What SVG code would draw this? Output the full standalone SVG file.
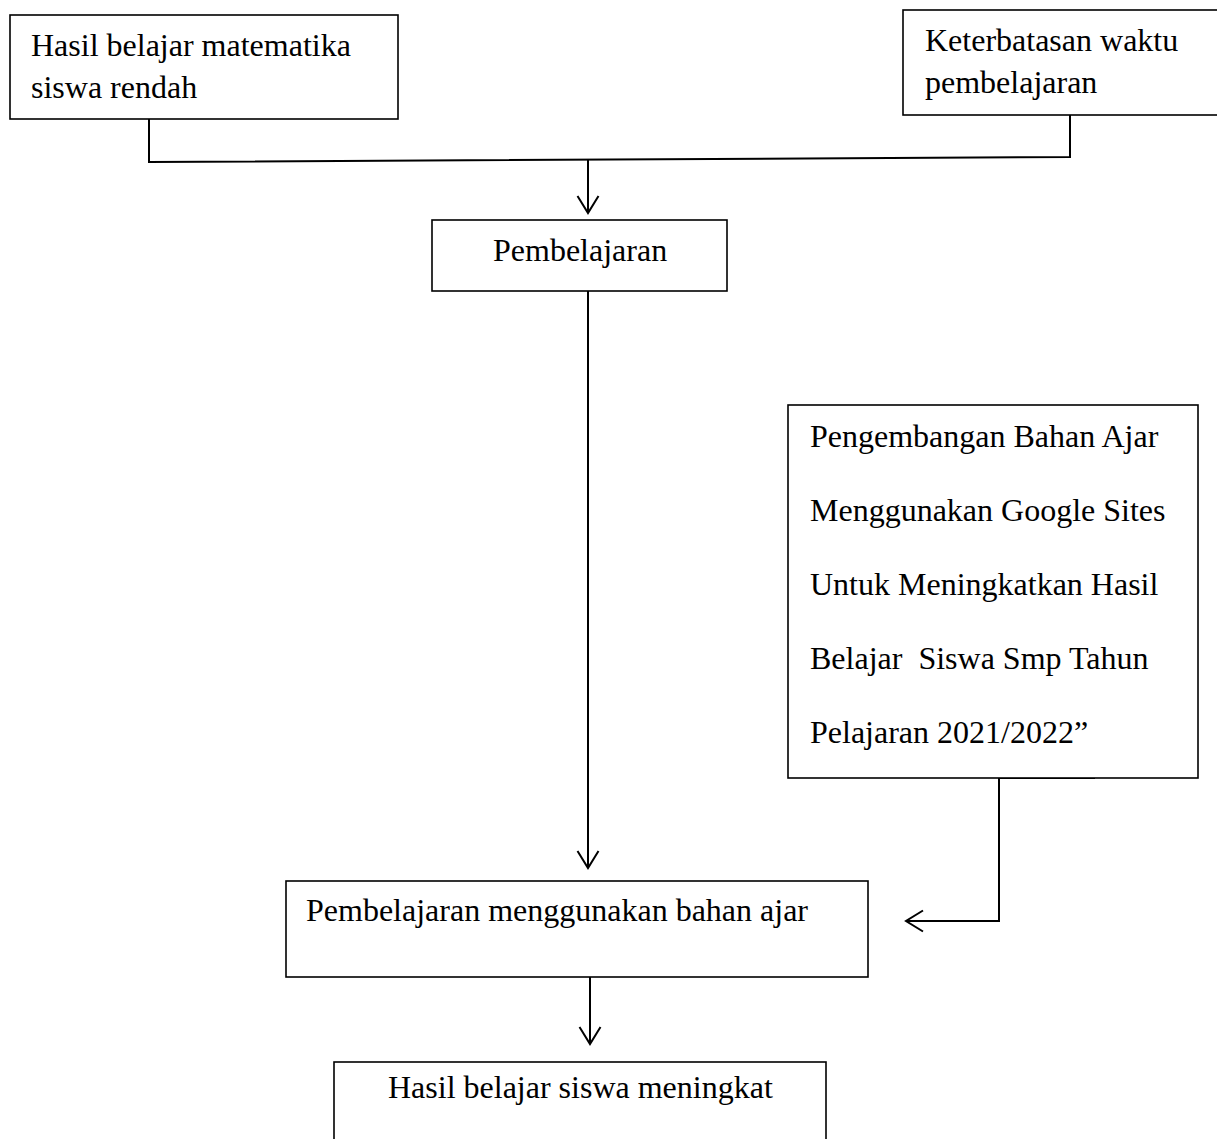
<svg xmlns="http://www.w3.org/2000/svg" width="1217" height="1139" viewBox="0 0 1217 1139">
<style>
.box{fill:#fff;stroke:#000;stroke-width:1.6}
.t{font-family:"Liberation Serif","Times New Roman",serif;font-size:32px;fill:#000}
.c{fill:none;stroke:#000;stroke-width:2}
</style>
<defs>
<marker id="arr" viewBox="-19 -12 21 24" refX="0" refY="0" markerWidth="21" markerHeight="24" markerUnits="userSpaceOnUse" orient="auto">
<path d="M-17,-10.5 L0,0 L-17,10.5" fill="none" stroke="#000" stroke-width="2"/>
</marker>
</defs>
<rect width="1217" height="1139" fill="#fff"/>
<g id="connectors">
<polyline class="c" points="149,119 149,162 1070,157 1070,115"/>
<line class="c" x1="588" y1="160" x2="588" y2="213" marker-end="url(#arr)"/>
<line class="c" x1="588" y1="291" x2="588" y2="868" marker-end="url(#arr)"/>
<polyline class="c" points="1095,778 999,778 999,921 906,921" marker-end="url(#arr)"/>
<line class="c" x1="590" y1="977" x2="590" y2="1044" marker-end="url(#arr)"/>
</g>
<g id="n1">
<rect class="box" x="10" y="15" width="388" height="104"/>
<text class="t" x="31" y="56">Hasil belajar matematika</text>
<text class="t" x="31" y="98">siswa rendah</text>
</g>
<g id="n2">
<rect class="box" x="903" y="10" width="330" height="105"/>
<text class="t" x="925" y="51">Keterbatasan waktu</text>
<text class="t" x="925" y="93">pembelajaran</text>
</g>
<g id="n3">
<rect class="box" x="432" y="220" width="295" height="71"/>
<text class="t" x="493" y="261">Pembelajaran</text>
</g>
<g id="n4">
<rect class="box" x="788" y="405" width="410" height="373"/>
<text class="t" x="810" y="447">Pengembangan Bahan Ajar</text>
<text class="t" x="810" y="521">Menggunakan Google Sites</text>
<text class="t" x="810" y="595">Untuk Meningkatkan Hasil</text>
<text class="t" x="810" y="669" xml:space="preserve">Belajar  Siswa Smp Tahun</text>
<text class="t" x="810" y="743">Pelajaran 2021/2022”</text>
</g>
<g id="n5">
<rect class="box" x="286" y="881" width="582" height="96"/>
<text class="t" x="306" y="921">Pembelajaran menggunakan bahan ajar</text>
</g>
<g id="n6">
<rect class="box" x="334" y="1062" width="492" height="100"/>
<text class="t" x="388" y="1098">Hasil belajar siswa meningkat</text>
</g>
</svg>
